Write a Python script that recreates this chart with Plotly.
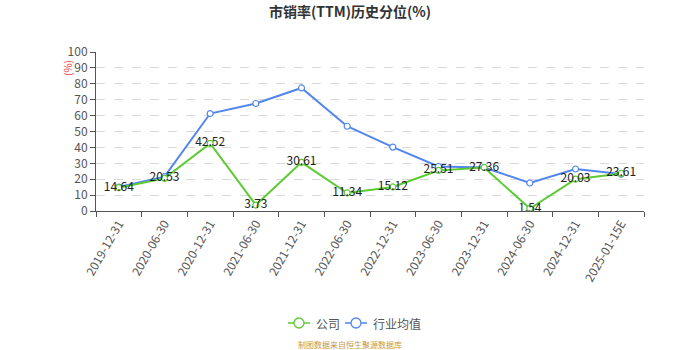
import plotly.graph_objects as go

dates = ["2019-12-31", "2020-06-30", "2020-12-31", "2021-06-30", "2021-12-31",
         "2022-06-30", "2022-12-31", "2023-06-30", "2023-12-31", "2024-06-30",
         "2024-12-31", "2025-01-15E"]
company = [14.64, 20.53, 42.52, 3.73, 30.61, 11.34, 15.12, 25.51, 27.36, 1.54, 20.03, 23.61]
industry = [15.1, 21.6, 61.3, 67.6, 77.4, 53.3, 40.2, 28.0, 27.4, 17.6, 26.4, 23.2]
y_ticks = list(range(0, 101, 10))

GREEN = "#5ccb32"
BLUE = "#5286ec"
FONT = "Noto Sans CJK SC, Noto Sans, sans-serif"

W, H = 700, 350
ML, MR, MT, MB = 96, 56, 52, 139

fig = go.Figure()
fig.add_trace(go.Scatter(
    x=dates, y=industry, name="行业均值", mode="lines+markers",
    line=dict(color=BLUE, width=2),
    marker=dict(symbol="circle", size=6, color="white", line=dict(color=BLUE, width=1.2)),
    cliponaxis=False, showlegend=False,
))
fig.add_trace(go.Scatter(
    x=dates, y=company, name="公司", mode="lines+markers+text",
    line=dict(color=GREEN, width=2),
    marker=dict(symbol="circle", size=6, color="white", line=dict(color=GREEN, width=1.2)),
    text=[f"{v:.2f}" for v in company], textposition="middle center",
    textfont=dict(size=12, color="#222", family=FONT),
    cliponaxis=False, showlegend=False,
))


def px_x(x):
    return (x - ML) / (W - ML - MR)


def px_y(y):
    return (H - MB - y) / (H - MT - MB)


# Legend drawn as line + hollow circle + label, centred under the plot
legend_items = [("公司", GREEN, 288), ("行业均值", BLUE, 345)]
legend_y = 323
shapes = []
annotations = []
for label, color, x0 in legend_items:
    shapes.append(dict(type="line", xref="paper", yref="paper",
                       x0=px_x(x0), x1=px_x(x0 + 22), y0=px_y(legend_y), y1=px_y(legend_y),
                       line=dict(color=color, width=1.5), layer="above"))
    shapes.append(dict(type="circle", xref="paper", yref="paper",
                       xsizemode="pixel", ysizemode="pixel",
                       xanchor=px_x(x0 + 11), yanchor=px_y(legend_y),
                       x0=-5, x1=5, y0=-5, y1=5,
                       fillcolor="white", line=dict(color=color, width=1.3), layer="above"))
    annotations.append(dict(text=label, x=px_x(x0 + 26), y=px_y(legend_y),
                            xref="paper", yref="paper", xanchor="left", yanchor="middle",
                            showarrow=False, font=dict(size=12, color="#555", family=FONT)))

annotations += [
    dict(text="(%)", x=px_x(67), y=px_y(68), xref="paper", yref="paper",
         xanchor="center", yanchor="middle",
         showarrow=False, textangle=-90,
         font=dict(size=10, color="#e8463c", family=FONT)),
    dict(text="制图数据来自恒生聚源数据库", x=px_x(350), y=px_y(344), xref="paper", yref="paper",
         xanchor="center", yanchor="middle", showarrow=False,
         font=dict(size=8, color="#c8963c", family=FONT)),
]

fig.update_layout(
    width=W, height=H,
    margin=dict(l=ML, r=MR, t=MT, b=MB, autoexpand=False),
    paper_bgcolor="white", plot_bgcolor="white",
    font=dict(family=FONT, color="#666", size=12),
    title=dict(text="<b>市销率(TTM)历史分位(%)</b>", x=0.5, xanchor="center",
               y=1 - 12 / H, yanchor="middle", font=dict(size=14, color="#333", family=FONT)),
    showlegend=False,
    xaxis=dict(type="category", range=[-0.5, 11.5], tickangle=-60, automargin=False,
               showline=True, linecolor="#555", linewidth=1,
               ticks="outside", tickson="boundaries", ticklen=5, tickcolor="#555",
               showgrid=False, tickfont=dict(size=12, color="#555")),
    yaxis=dict(range=[0, 100], tickvals=y_ticks, automargin=False,
               showline=True, linecolor="#555",
               linewidth=1, ticks="outside", ticklen=5, tickcolor="#555",
               showgrid=True, gridcolor="#d9d9d9", griddash="dash", gridwidth=1,
               zeroline=False, tickfont=dict(size=12, color="#555")),
    shapes=shapes,
    annotations=annotations,
)

fig.write_html("out.html")
